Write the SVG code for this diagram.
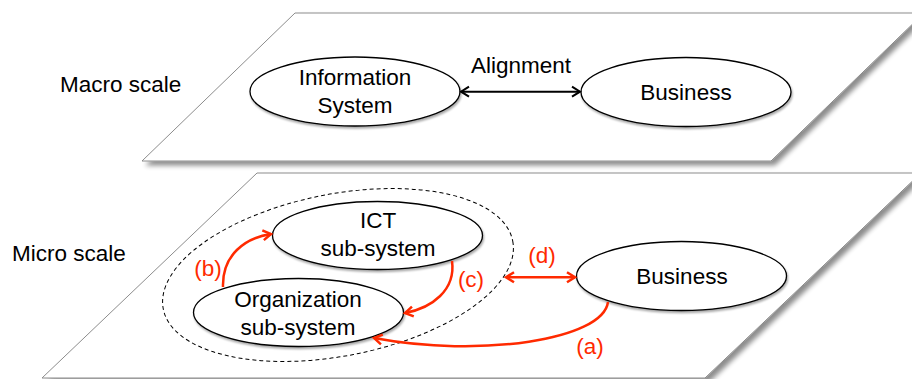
<svg xmlns="http://www.w3.org/2000/svg" width="912" height="379" viewBox="0 0 912 379">
  <defs>
    <style>
      .plane { fill: #ffffff; stroke: #8c8c8c; stroke-width: 1; }
      .node { fill: #ffffff; stroke: #000000; stroke-width: 1.3; }
      .label { font-family: "Liberation Sans", Arial, Helvetica, sans-serif; font-size: 22.5px; fill: #000000; text-anchor: middle; }
      .side { font-family: "Liberation Sans", Arial, Helvetica, sans-serif; font-size: 22.5px; fill: #000000; }
      .red-label { font-family: "Liberation Sans", Arial, Helvetica, sans-serif; font-size: 22.5px; fill: #ff2a00; text-anchor: middle; }
      .link { fill: none; stroke: #000000; stroke-width: 2; }
      .link-red { fill: none; stroke: #ff2a00; stroke-width: 2.5; }
      .group { fill: none; stroke: #000000; stroke-width: 1; stroke-dasharray: 4 3; }
    </style>
    <filter id="planeShadow" x="-5%" y="-10%" width="115%" height="130%">
      <feGaussianBlur in="SourceAlpha" stdDeviation="2.5"/>
      <feOffset dx="4" dy="4" result="blur"/>
      <feComponentTransfer><feFuncA type="linear" slope="0.45"/></feComponentTransfer>
      <feMerge><feMergeNode/><feMergeNode in="SourceGraphic"/></feMerge>
    </filter>
    <filter id="nodeShadow" x="-10%" y="-20%" width="125%" height="150%">
      <feGaussianBlur in="SourceAlpha" stdDeviation="1"/>
      <feOffset dx="1" dy="1.5"/>
      <feComponentTransfer><feFuncA type="linear" slope="0.35"/></feComponentTransfer>
      <feMerge><feMergeNode/><feMergeNode in="SourceGraphic"/></feMerge>
    </filter>
    <marker id="arrowBlack" markerUnits="userSpaceOnUse" markerWidth="14" markerHeight="14" viewBox="-11 -7 14 14" refX="0" refY="0" orient="auto-start-reverse">
      <path d="M-8,-5 L0,0 L-8,5" fill="none" stroke="#000000" stroke-width="2"/>
    </marker>
    <marker id="arrowRed" markerUnits="userSpaceOnUse" markerWidth="14" markerHeight="14" viewBox="-11 -7 14 14" refX="0" refY="0" orient="auto-start-reverse">
      <path d="M-8,-5 L0,0 L-8,5" fill="none" stroke="#ff2a00" stroke-width="2.5"/>
    </marker>
  </defs>

  <rect width="912" height="379" fill="#ffffff"/>

  <!-- scale planes -->
  <g id="macro-plane">
    <polygon class="plane" points="295,13 924,13 771,161 142,161" filter="url(#planeShadow)"/>
    <text class="side" x="60" y="92">Macro scale</text>
  </g>
  <g id="micro-plane">
    <polygon class="plane" points="257,173 921,173 705,378 42,378" filter="url(#planeShadow)"/>
    <text class="side" x="12" y="261">Micro scale</text>
  </g>

  <!-- dashed boundary of the information system -->
  <g id="is-boundary">
    <ellipse class="group" cx="338" cy="275" rx="178" ry="81" transform="rotate(-11 338 275)"/>
  </g>

  <!-- nodes -->
  <g id="information-system">
    <ellipse class="node" cx="355" cy="91.5" rx="105" ry="34.5" filter="url(#nodeShadow)"/>
    <text class="label" x="355" y="85">Information</text>
    <text class="label" x="355" y="113">System</text>
  </g>
  <g id="business-macro">
    <ellipse class="node" cx="686" cy="92" rx="105" ry="34.5" filter="url(#nodeShadow)"/>
    <text class="label" x="686" y="99.5">Business</text>
  </g>
  <g id="ict-subsystem">
    <ellipse class="node" cx="377.5" cy="235.5" rx="105" ry="34" filter="url(#nodeShadow)"/>
    <text class="label" x="378" y="228">ICT</text>
    <text class="label" x="378" y="256">sub-system</text>
  </g>
  <g id="organization-subsystem">
    <ellipse class="node" cx="298.5" cy="312.5" rx="105" ry="34" filter="url(#nodeShadow)"/>
    <text class="label" x="298" y="306.5">Organization</text>
    <text class="label" x="298" y="335">sub-system</text>
  </g>
  <g id="business-micro">
    <ellipse class="node" cx="681.5" cy="276" rx="105" ry="34.5" filter="url(#nodeShadow)"/>
    <text class="label" x="682" y="283.5">Business</text>
  </g>

  <!-- connectors -->
  <g id="connectors">
    <line class="link" x1="461" y1="91.7" x2="580" y2="91.7" marker-start="url(#arrowBlack)" marker-end="url(#arrowBlack)"/>
    <text class="label" x="521" y="73">Alignment</text>

    <path class="link-red" d="M608,302 C603,340 480,358 374,338" marker-end="url(#arrowRed)"/>
    <text class="red-label" x="590" y="354">(a)</text>

    <path class="link-red" d="M223,287 C222,255 245,238 271,234" marker-end="url(#arrowRed)"/>
    <text class="red-label" x="208" y="276">(b)</text>

    <path class="link-red" d="M452,261 C456,290 432,308 405,313" marker-end="url(#arrowRed)"/>
    <text class="red-label" x="471" y="287">(c)</text>

    <line class="link-red" x1="506" y1="277.3" x2="575" y2="277.3" marker-start="url(#arrowRed)" marker-end="url(#arrowRed)"/>
    <text class="red-label" x="542" y="263">(d)</text>
  </g>
</svg>
